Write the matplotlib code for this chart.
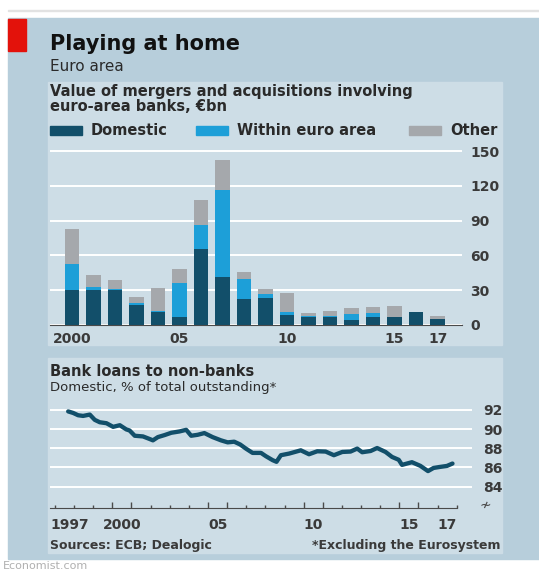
import matplotlib
matplotlib.use("Agg")
import matplotlib.pyplot as plt
from matplotlib.patches import Rectangle

# M&A value involving euro-area banks, EUR bn
years = list(range(2000, 2018))
domestic = [30, 30, 30, 17.5, 11, 6.5, 65.5, 41.5, 22.5, 23.5, 8.5, 6.5, 7, 4.5, 6.5, 6.5, 11, 5.5]
within = [23, 3, 1, 1.5, 1.5, 30, 21, 75, 17, 3.5, 2.5, 1, 1, 5, 3.5, 0.5, 0.5, 0]
other = [30, 10, 7.5, 5.5, 19, 11.5, 21.5, 25.5, 6.5, 4, 16.5, 3, 4.5, 5.5, 5.5, 9.5, 0, 2]
bar_ticks = [2000, 2005, 2010, 2015, 2017]
bar_ticklabels = ["2000", "05", "10", "15", "17"]

# bank loans to non-banks, domestic % of total outstanding
loan_x = [1997.69, 1997.95, 1998.21, 1998.47, 1998.82, 1999.08, 1999.34, 1999.69,
          2000.04, 2000.39, 2000.73, 2000.90, 2001.17, 2001.60, 2001.95, 2002.12,
          2002.38, 2002.73, 2003.08, 2003.51, 2003.86, 2004.12, 2004.46, 2004.81,
          2005.24, 2005.68, 2006.03, 2006.37, 2006.68, 2006.98, 2007.33, 2007.77,
          2008.03, 2008.38, 2008.58, 2008.81, 2009.24, 2009.85, 2010.28, 2010.71,
          2011.15, 2011.58, 2012.02, 2012.45, 2012.80, 2013.06, 2013.50, 2013.84,
          2014.28, 2014.62, 2014.97, 2015.14, 2015.66, 2016.10, 2016.50, 2016.79,
          2017.10, 2017.49, 2017.78]
loan_y = [91.85, 91.69, 91.45, 91.38, 91.52, 90.97, 90.72, 90.62,
          90.24, 90.41, 89.97, 89.86, 89.31, 89.24, 88.97, 88.83,
          89.17, 89.38, 89.62, 89.76, 89.93, 89.31, 89.41, 89.59,
          89.17, 88.83, 88.62, 88.69, 88.40, 87.97, 87.52, 87.52,
          87.17, 86.76, 86.59, 87.28, 87.45, 87.79, 87.38, 87.69,
          87.66, 87.28, 87.62, 87.66, 87.97, 87.59, 87.72, 88.03,
          87.62, 87.10, 86.80, 86.27, 86.55, 86.17, 85.62, 85.95,
          86.05, 86.16, 86.41]
loan_ticks = [84, 86, 88, 90, 92]
label_years = [2000, 2005, 2010, 2015, 2017]
label_text = ["2000", "05", "10", "15", "17"]

C_DOM = "#124f6a"
C_WITHIN = "#1d9fd8"
C_OTHER = "#a5a8ac"
OUTER = "#b7cedb"
INNER = "#cddde6"
TXT = "#2a2a2a"
TICK = "#3a3a3a"

W, H = 539, 572
fig = plt.figure(figsize=(W / 100, H / 100), dpi=100)
fig.patch.set_facecolor("white")


def box(x0, y0, x1, y1):
    return [x0 / W, 1 - y1 / H, (x1 - x0) / W, (y1 - y0) / H]


def rect(x0, y0, x1, y1, color, z=-5):
    fig.patches.append(Rectangle((x0 / W, 1 - y1 / H), (x1 - x0) / W, (y1 - y0) / H,
                                 transform=fig.transFigure, color=color, zorder=z))


def ftext(x, y, s, **kw):
    fig.text(x / W, 1 - y / H, s, **kw)


# background panels
rect(8, 10, 539, 11, "#e2e2e2")
rect(8, 18, 539, 559, OUTER)
rect(48, 82, 502, 345, INNER, z=-4)
rect(48, 358, 502, 553, INNER, z=-4)
rect(8, 19, 26, 51, "#e3120b", z=-3)

ftext(50, 50, "Playing at home", fontsize=15, fontweight="bold", color="#111111", va="baseline")
ftext(50, 71, "Euro area", fontsize=11, color=TXT, va="baseline")
ftext(50, 96, "Value of mergers and acquisitions involving", fontsize=10.5,
      fontweight="bold", color=TXT, va="baseline")
ftext(50, 111, "euro-area banks, €bn", fontsize=10.5, fontweight="bold", color=TXT, va="baseline")

# legend
for x0, col, lab in [(50, C_DOM, "Domestic"), (196, C_WITHIN, "Within euro area"),
                     (409, C_OTHER, "Other")]:
    rect(x0, 126, x0 + 32, 135, col, z=-3)
    ftext(x0 + 41, 130.5, lab, fontsize=10.5, fontweight="bold", color=TXT, va="center")

# bar chart
ax1 = fig.add_axes(box(50, 148.7, 462, 325))
ax1.set_facecolor("none")
bw = 0.67
ax1.bar(years, domestic, bw, color=C_DOM, zorder=3)
bot = [d for d in domestic]
ax1.bar(years, within, bw, bottom=bot, color=C_WITHIN, zorder=3)
bot = [d + w for d, w in zip(domestic, within)]
ax1.bar(years, other, bw, bottom=bot, color=C_OTHER, zorder=3)
ax1.set_xlim(1998.98, 2018.13)
ax1.set_ylim(0, 152)
ax1.set_yticks([0, 30, 60, 90, 120, 150])
ax1.yaxis.tick_right()
ax1.set_xticks(bar_ticks)
ax1.set_xticklabels(bar_ticklabels)
ax1.tick_params(axis="both", length=0, labelsize=10, labelcolor=TICK)
ax1.tick_params(axis="y", pad=6)
ax1.tick_params(axis="x", pad=5)
for lab in ax1.get_xticklabels() + ax1.get_yticklabels():
    lab.set_fontweight("bold")
ax1.grid(axis="y", color="white", lw=1.4, zorder=1)
ax1.set_axisbelow(True)
for s in ["top", "left", "right"]:
    ax1.spines[s].set_visible(False)
ax1.spines["bottom"].set_color("#4a4a4a")
ax1.spines["bottom"].set_zorder(4)

# line chart
ftext(50, 376, "Bank loans to non-banks", fontsize=10.5, fontweight="bold", color=TXT, va="baseline")
ftext(50, 391, "Domestic, % of total outstanding*", fontsize=9.5, color=TXT, va="baseline")

ax2 = fig.add_axes(box(50, 400.4, 472, 508))
ax2.set_facecolor("none")
ax2.plot(loan_x, loan_y, color=C_DOM, lw=3.1, solid_capstyle="round", solid_joinstyle="round", zorder=3)
ax2.set_xlim(1996.74, 2018.8)
ax2.set_ylim(81.77, 93)
ax2.set_yticks(loan_ticks)
ax2.yaxis.tick_right()
ax2.tick_params(axis="y", length=0, pad=8, labelsize=10, labelcolor=TICK)
for lab in ax2.get_yticklabels():
    lab.set_fontweight("bold")
ax2.grid(axis="y", color="white", lw=1.4, zorder=1)
ax2.set_xticks([2000, 2001, 2005, 2006, 2010, 2011, 2015, 2016])
ax2.set_xticks([y for y in range(1997, 2019) if y not in (2000, 2001, 2005, 2006, 2010, 2011, 2015, 2016)],
               minor=True)
ax2.tick_params(axis="x", which="both", direction="in", color="#4a4a4a", labelbottom=False, width=1)
ax2.tick_params(axis="x", which="major", length=4.5)
ax2.tick_params(axis="x", which="minor", length=2.5)
for s in ["top", "left", "right"]:
    ax2.spines[s].set_visible(False)
ax2.spines["bottom"].set_bounds(1996.74, 2018.0)
ax2.spines["bottom"].set_color("#4a4a4a")

tr = ax2.get_xaxis_transform()
ax2.text(1996.74, -0.155, "1997", transform=tr, ha="left", va="center", fontsize=10,
         fontweight="bold", color=TICK)
for yr, s in zip(label_years, label_text):
    ax2.text(yr + 0.5, -0.155, s, transform=tr, ha="center", va="center", fontsize=10,
             fontweight="bold", color=TICK)
ftext(485, 505, "≁", fontsize=10, color="#4a4a4a", ha="center", va="center")

ftext(50, 545, "Sources: ECB; Dealogic", fontsize=9, fontweight="bold", color="#3a3a3a", va="center")
ftext(500, 545, "*Excluding the Eurosystem", fontsize=9, fontweight="bold", color="#3a3a3a",
      ha="right", va="center")
ftext(3, 561, "Economist.com", fontsize=8, color="#b0b0b0", va="top")

fig.savefig("out.png", dpi=100)
